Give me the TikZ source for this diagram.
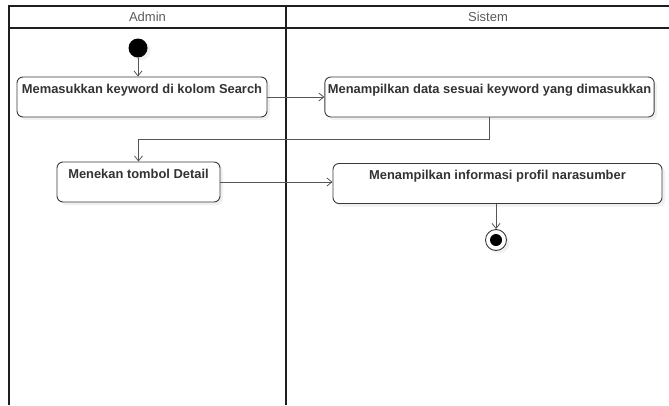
\documentclass[tikz,border=0pt]{standalone}
\usepackage{fontspec}
\setmainfont{Liberation Sans}
\usetikzlibrary{arrows.meta,shadows}
\definecolor{frameline}{HTML}{1E1E1E}
\definecolor{boxline}{HTML}{3A3A3A}
\definecolor{flowline}{HTML}{555555}
\definecolor{boxtext}{HTML}{333333}
\definecolor{lanetext}{HTML}{5A5A5A}
\begin{document}
\begin{tikzpicture}[x=1pt,y=-1pt,
  lane/.style={draw=frameline,line width=1.8pt},
  lanetitle/.style={font=\fontsize{13}{15}\selectfont,text=lanetext},
  action/.style={draw=boxline,line width=0.9pt,rounded corners=6pt,fill=white,
    inner xsep=3pt,inner ysep=4pt,text height=12pt,text depth=20pt,
    font=\bfseries\fontsize{12.9}{15}\selectfont,text=boxtext,
    drop shadow={opacity=0.12,shadow xshift=3pt,shadow yshift=-3pt}},
  flow/.style={draw=flowline,line width=0.8pt,-{Straight Barb[length=5pt,width=8pt]}},
  startnode/.style={circle,fill=black,minimum size=19pt,inner sep=0pt,
    drop shadow={opacity=0.12,shadow xshift=3pt,shadow yshift=-3pt}},
  endnode/.style={circle,draw=boxline,line width=0.9pt,fill=white,minimum size=21pt,inner sep=0pt,
    path picture={\fill[black] (path picture bounding box.center) circle (6pt);},
    drop shadow={opacity=0.12,shadow xshift=3pt,shadow yshift=-3pt}}]
\useasboundingbox (0,0) rectangle (669,405);

% swimlane frame
\draw[lane] (9,405) -- (9,6) -- (669,6);
\draw[lane] (9,28) -- (669,28);
\draw[lane] (286,6) -- (286,405);
\node[lanetitle] (admin) at (147.5,17) {Admin};
\node[lanetitle] (sistem) at (488,17) {Sistem};

% activity nodes
\node[startnode] (start) at (138,48) {};
\node[action,minimum width=250pt] (a1) at (142,97) {Memasukkan keyword di kolom Search};
\node[action,minimum width=329pt] (a2) at (489.5,97) {Menampilkan data sesuai keyword yang dimasukkan};
\node[action,minimum width=163pt] (a3) at (138.5,182) {Menekan tombol Detail};
\node[action,minimum width=329pt] (a4) at (497.5,183.5) {Menampilkan informasi profil narasumber};
\node[endnode] (stop) at (496,240) {};

% control flow
\draw[flow] (start) -- (start |- a1.north);
\draw[flow] (a1.east) -- (a1.east -| a2.west);
\draw[flow] (a2.south) -- ++(0,22) -| (a3.north);
\draw[flow] (a3.east) -- (a3.east -| a4.west);
\draw[flow] (a4.south -| stop) -- (stop.north);
\end{tikzpicture}
\end{document}
